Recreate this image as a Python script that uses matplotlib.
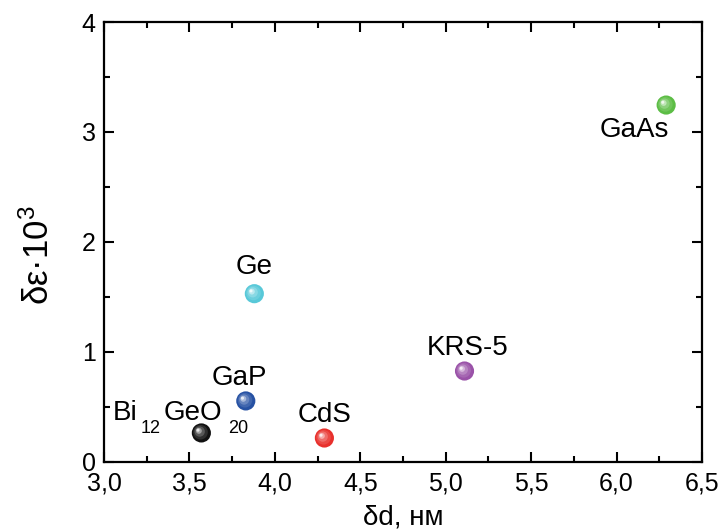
import matplotlib.pyplot as plt
import matplotlib.transforms as mtransforms
import numpy as np

plt.rcParams['font.family'] = ['Liberation Sans', 'DejaVu Sans']
plt.rcParams['mathtext.fontset'] = 'custom'
plt.rcParams['mathtext.rm'] = 'Liberation Sans'
plt.rcParams['mathtext.it'] = 'Liberation Sans'

materials = ['GaAs', 'Ge', 'GaP', 'Bi12GeO20', 'CdS', 'KRS-5']
dd = [6.29, 3.88, 3.83, 3.57, 4.29, 5.11]
deps = [3.245, 1.53, 0.555, 0.264, 0.218, 0.827]
colors = ['#5cbd45', '#58c8d8', '#2651a3', '#111111', '#e8302c', '#9a52a8']
# label pieces: (text, dx, dy baseline offset in px, fontsize)
labels = [
    [('GaAs', -32, -32, 20)],
    [('Ge', 0, 20, 20)],
    [('GaP', -6, 16, 20)],
    [('Bi', -76, 13, 20), ('12', -51, 0, 13), ('GeO', -8, 13, 20), ('20', 37, 0, 13)],
    [('CdS', 0, 16, 20)],
    [('KRS-5', 3, 16, 20)],
]

xticks = [3.0, 3.5, 4.0, 4.5, 5.0, 5.5, 6.0, 6.5]
yticks = [0, 1, 2, 3, 4]

fig = plt.figure(figsize=(7.23, 5.29), dpi=100)
ax = fig.add_axes([0.1438, 0.1267, 0.971 - 0.1438, 0.9584 - 0.1267])

def lighten(c, f):
    rgb = np.array(plt.matplotlib.colors.to_rgb(c))
    return tuple(rgb + (1 - rgb) * f)

# pseudo-3D spheres: base + lighter layers shifted up-left
for x, y, c in zip(dd, deps, colors):
    ax.scatter([x], [y], s=190, color=c, edgecolors='none', zorder=3)
    for k, (s, f) in enumerate([(110, 0.12), (55, 0.3), (18, 0.6), (5, 0.9)]):
        sh = mtransforms.offset_copy(ax.transData, fig=fig,
                                     x=-0.6 * (k + 1), y=0.5 * (k + 1),
                                     units='points')
        ax.scatter([x], [y], s=s, color=lighten(c, f), edgecolors='none',
                   zorder=4 + k, transform=sh)

for pieces, x, y in zip(labels, dd, deps):
    for txt, ox, oy, fs in pieces:
        ax.annotate(txt, (x, y), xytext=(ox, oy), textcoords='offset pixels',
                    ha='center', va='baseline', fontsize=fs)

ax.set_xlim(3.0, 6.5)
ax.set_ylim(0, 4)
ax.set_xticks(xticks)
ax.set_xticklabels([f'{t:.1f}'.replace('.', ',') for t in xticks])
ax.set_yticks(yticks)
ax.set_xticks(np.arange(3.25, 6.5, 0.5), minor=True)
ax.set_yticks(np.arange(0.5, 4, 1.0), minor=True)
ax.tick_params(which='both', direction='in', top=True, right=True, width=1.5,
               labelsize=18)
ax.tick_params(axis='x', which='major', pad=7)
ax.tick_params(axis='y', which='major', pad=6)
ax.tick_params(which='major', length=7)
ax.tick_params(which='minor', length=4)
for sp in ax.spines.values():
    sp.set_linewidth(1.6)

ax.set_xlabel('δd, нм', fontsize=20, labelpad=6)
ax.set_ylabel('δε·10$^{3}$', fontsize=25)
ax.yaxis.set_label_coords(-0.08, 0.47)

fig.savefig('out.png', dpi=100)
